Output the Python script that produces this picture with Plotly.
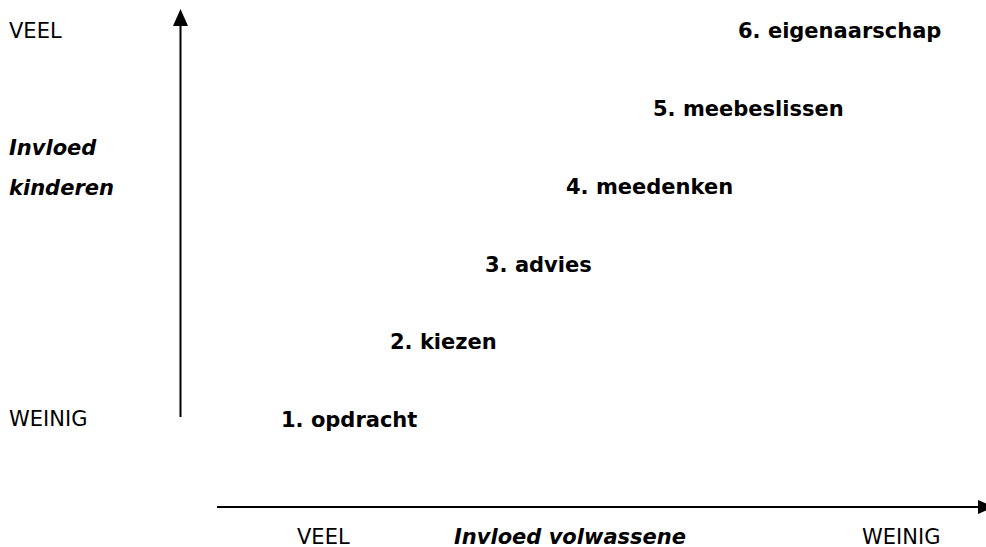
import plotly.graph_objects as go

# --- data ---
stages = ["1. opdracht", "2. kiezen", "3. advies", "4. meedenken",
          "5. meebeslissen", "6. eigenaarschap"]
child_influence = [1, 2, 3, 4, 5, 6]                 # level of children's influence
adult_position = [281, 390, 485, 566, 653, 738]       # horizontal placement

y_tick_labels = ["WEINIG", "VEEL"]
x_tick_labels = ["VEEL", "WEINIG"]
y_title = ["Invloed", "kinderen"]
x_title = "Invloed volwassene"

W, H = 986, 547
FONT = "DejaVu Sans, Verdana, sans-serif"
FS = 21

def px(x):
    return x / W

def py(y):
    return 1 - y / H

fig = go.Figure()
fig.add_trace(go.Scatter(
    x=adult_position, y=child_influence, mode="text", text=[f"<b>{s}</b>" for s in stages],
    textposition="middle right", textfont=dict(family=FONT, size=FS, color="black"),
    hoverinfo="skip", showlegend=False, cliponaxis=False))

shapes = [
    # vertical axis arrow
    dict(type="line", xref="paper", yref="paper", x0=px(180.5), x1=px(180.5), y0=py(417), y1=py(24),
         line=dict(color="black", width=2)),
    dict(type="path", xref="paper", yref="paper",
         path=f"M {px(180.5)},{py(9)} L {px(173)},{py(26)} L {px(188)},{py(26)} Z",
         fillcolor="black", line=dict(color="black", width=0)),
    # horizontal axis arrow
    dict(type="line", xref="paper", yref="paper", x0=px(217), x1=px(978), y0=py(507), y1=py(507),
         line=dict(color="black", width=2)),
    dict(type="path", xref="paper", yref="paper",
         path=f"M {px(994)},{py(507)} L {px(978)},{py(500)} L {px(978)},{py(514)} Z",
         fillcolor="black", line=dict(color="black", width=0)),
]

def ann(text, x, y, bold=False, italic=False):
    t = text
    if italic:
        t = f"<i>{t}</i>"
    if bold:
        t = f"<b>{t}</b>"
    return dict(text=t, x=px(x), y=py(y), xref="paper", yref="paper", xanchor="left",
                yanchor="middle", showarrow=False, borderpad=0, borderwidth=0,
                font=dict(family=FONT, size=FS, color="black"))

annotations = [
    ann(y_tick_labels[1], 9, 31),
    ann(y_title[0], 9, 148, bold=True, italic=True),
    ann(y_title[1], 9, 188, bold=True, italic=True),
    ann(y_tick_labels[0], 9, 419),
    ann(x_tick_labels[0], 297, 537),
    ann(x_title, 454, 537, bold=True, italic=True),
    ann(x_tick_labels[1], 862, 537),
]

# vertical mapping of levels: level 1 -> pixel 422, level 6 -> pixel 33
lvl_px = (422 - 33) / 5.0
y_lo = 1 - (547 - 422) / lvl_px
y_hi = 6 + 33 / lvl_px

fig.update_layout(
    width=W, height=H, margin=dict(l=0, r=0, t=0, b=0),
    paper_bgcolor="white", plot_bgcolor="white",
    xaxis=dict(range=[0, W], visible=False, fixedrange=True),
    yaxis=dict(range=[y_lo, y_hi], visible=False, fixedrange=True),
    shapes=shapes, annotations=annotations, showlegend=False,
)

fig.write_html("out.html", config={"displayModeBar": False},
               post_script="document.body.style.margin='0';document.body.style.overflow='hidden';")
